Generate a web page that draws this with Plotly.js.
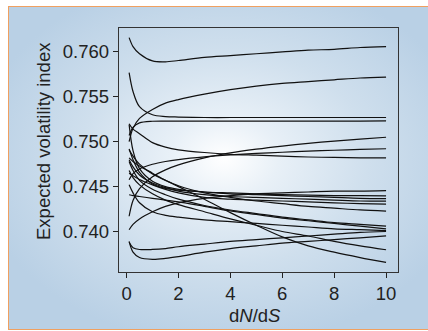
<!DOCTYPE html>
<html>
<head>
<meta charset="utf-8">
<script src="https://cdn.plot.ly/plotly-3.0.1.min.js"></script>
<style>
  html, body { margin: 0; padding: 0; background: #ffffff; width: 428px; height: 331px; overflow: hidden; }
  #bg {
    position: absolute; left: 8px; top: 6px; width: 430px; height: 322px;
    border-top: 1.5px solid #f0a060; border-left: 1.5px solid #f0a060; border-bottom: 1.5px solid #f0a060;
    background: radial-gradient(ellipse 58% 58% at 50% 47%, #ffffff 0%, #e8f0f7 22%, #cfdfed 58%, #b9d0e5 100%);
  }
  #chart { position: absolute; left: 0; top: 0; width: 428px; height: 331px; }
</style>
</head>
<body>
<div id="bg"></div>
<div id="chart"></div>
<script>
// dN/dS sample points
const xs = [0.1, 0.25, 0.5, 1, 1.5, 2, 3, 4, 5, 6, 7, 8, 9, 10];

// Expected volatility index curves
const c01 = [0.7616, 0.7606, 0.7598, 0.7590, 0.7589, 0.75905, 0.7594, 0.7596, 0.7598, 0.7600, 0.7602, 0.7603, 0.7605, 0.7606];
const c02 = [0.7577, 0.7556, 0.7539, 0.7530, 0.7528, 0.75275, 0.7527, 0.7527, 0.7527, 0.7527, 0.7527, 0.7527, 0.7527, 0.7527];
const c03 = [0.7507, 0.7516, 0.7521, 0.75228, 0.7523, 0.7523, 0.7523, 0.7523, 0.7523, 0.7523, 0.7523, 0.7523, 0.7523, 0.75233];
const c04 = [0.7500, 0.7515, 0.7526, 0.7536, 0.7543, 0.7547, 0.7553, 0.7558, 0.7562, 0.7565, 0.7567, 0.7569, 0.7571, 0.7572];
const c05 = [0.7520, 0.7514, 0.7509, 0.7499, 0.7494, 0.7491, 0.7488, 0.7486, 0.7485, 0.7484, 0.7483, 0.74825, 0.7482, 0.7482];
const c06 = [0.7417, 0.74345, 0.74478, 0.7461, 0.74687, 0.74742, 0.7482, 0.74875, 0.74917, 0.74952, 0.74982, 0.75007, 0.7503, 0.7505];
const c07 = [0.74576, 0.74645, 0.74697, 0.74749, 0.7478, 0.74801, 0.74831, 0.74853, 0.7487, 0.74883, 0.74895, 0.74905, 0.74914, 0.74922];
const c08 = [0.7492, 0.7480, 0.7466, 0.7453, 0.7448, 0.7446, 0.7444, 0.7442, 0.7441, 0.7440, 0.7439, 0.7438, 0.7437, 0.74367];
const c09 = [0.7519, 0.7490, 0.7470, 0.7456, 0.7450, 0.7447, 0.7444, 0.7443, 0.7442, 0.7441, 0.74405, 0.7440, 0.7440, 0.74397];
const c10 = [0.7402, 0.7408, 0.7414, 0.7422, 0.7428, 0.7432, 0.7437, 0.7440, 0.7442, 0.7443, 0.7444, 0.7445, 0.7445, 0.74456];
const c11 = [0.7480, 0.7472, 0.7463, 0.7454, 0.7449, 0.7445, 0.7441, 0.7439, 0.7438, 0.7437, 0.7436, 0.7435, 0.7434, 0.74338];
const c12 = [0.7465, 0.7462, 0.7458, 0.7452, 0.7447, 0.7443, 0.7438, 0.7436, 0.7435, 0.7434, 0.7433, 0.7432, 0.7431, 0.74304];
const c13 = [0.7491, 0.7484, 0.7475, 0.7464, 0.7457, 0.7451, 0.7443, 0.7438, 0.7434, 0.7431, 0.7428, 0.7426, 0.7424, 0.74227];
const c14 = [0.7478, 0.7468, 0.7457, 0.7447, 0.7441, 0.7436, 0.7429, 0.7424, 0.7420, 0.7416, 0.7413, 0.7410, 0.7408, 0.7406];
const c15 = [0.7441, 0.7440, 0.7439, 0.7437, 0.7435, 0.7433, 0.7428, 0.7423, 0.7419, 0.7415, 0.7412, 0.7409, 0.7406, 0.7403];
const c16 = [0.7452, 0.7443, 0.7432, 0.7422, 0.7418, 0.7416, 0.7413, 0.7411, 0.7409, 0.7407, 0.7405, 0.7403, 0.7402, 0.7401];
const c17 = [0.7388, 0.7382, 0.7380, 0.7380, 0.7381, 0.7383, 0.7386, 0.7389, 0.7391, 0.7393, 0.7395, 0.7397, 0.7399, 0.7400];
const c18 = [0.7389, 0.7377, 0.7371, 0.7369, 0.7370, 0.7372, 0.7377, 0.7381, 0.7384, 0.7387, 0.7389, 0.7391, 0.7393, 0.73952];
const c19 = [0.7468, 0.7460, 0.7452, 0.7442, 0.7435, 0.7430, 0.7422, 0.7414, 0.7407, 0.7400, 0.7395, 0.7389, 0.7384, 0.73797];
const c20 = [0.7482, 0.7478, 0.7473, 0.7465, 0.7457, 0.7450, 0.7436, 0.7421, 0.7407, 0.7394, 0.7384, 0.7377, 0.7371, 0.73656];

const curves = [c01, c02, c03, c04, c05, c06, c07, c08, c09, c10, c11, c12, c13, c14, c15, c16, c17, c18, c19, c20];

const xTicks = [0, 2, 4, 6, 8, 10];
const yTicks = [0.740, 0.745, 0.750, 0.755, 0.760];
const yTickText = ["0.740", "0.745", "0.750", "0.755", "0.760"];
const xTitle = 'd<i>N</i>/d<i>S</i>';
const yTitle = 'Expected volatility index';

const traces = curves.map(ys => ({
  x: xs, y: ys, type: 'scatter', mode: 'lines',
  line: { color: '#111111', width: 1.2, shape: 'spline', smoothing: 0.9 },
  hoverinfo: 'skip', showlegend: false
}));

const font = { family: 'Liberation Sans, Arial, sans-serif', size: 18.5, color: '#222' };

const layout = {
  width: 428, height: 331,
  margin: { l: 119.3, r: 30.3, t: 27.7, b: 58.7, pad: 0 },
  paper_bgcolor: 'rgba(0,0,0,0)',
  plot_bgcolor: 'rgba(0,0,0,0)',
  font: font,
  showlegend: false,
  xaxis: {
    range: [-0.29, 10.46],
    tickvals: xTicks, ticktext: xTicks.map(String),
    ticks: 'outside', ticklen: 5, tickwidth: 1, tickcolor: '#222',
    showline: true, linecolor: '#333', linewidth: 1.2, mirror: true,
    showgrid: false, zeroline: false,
    tickfont: font
  },
  yaxis: {
    range: [0.73549, 0.76267],
    tickvals: yTicks, ticktext: yTickText,
    ticks: 'outside', ticklen: 5, tickwidth: 1, tickcolor: '#222',
    showline: true, linecolor: '#333', linewidth: 1.2, mirror: true,
    showgrid: false, zeroline: false,
    tickfont: font
  },
  annotations: [
    { text: xTitle, xref: 'paper', yref: 'paper', x: 0.4874, y: -0.18,
      xanchor: 'center', yanchor: 'middle', showarrow: false, font: font },
    { text: yTitle, xref: 'paper', yref: 'paper', x: -0.2705, y: 0.535, textangle: -90,
      xanchor: 'center', yanchor: 'middle', showarrow: false, font: font }
  ]
};

Plotly.newPlot('chart', traces, layout, { staticPlot: true, displayModeBar: false });
</script>
</body>
</html>
